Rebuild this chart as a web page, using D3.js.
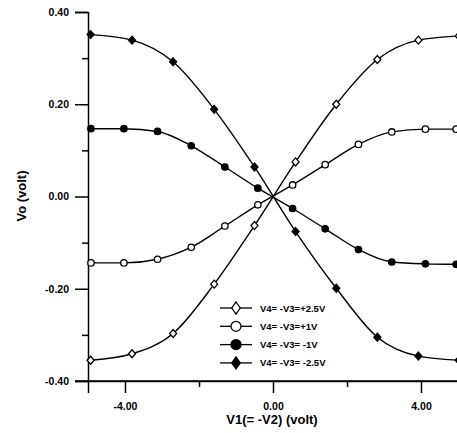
<!DOCTYPE html>
<html>
  <head>
    <meta charset="utf-8">
    <title>Vo vs V1</title>
    <script src="https://cdn.jsdelivr.net/npm/d3@7/dist/d3.min.js"></script>
    <style>
      body { margin: 0; background: #fff; }
      text { font-family: 'Liberation Sans', Arial, sans-serif; font-weight: bold; }
    </style>
  </head>
  <body>
    <svg width="457" height="433" id="mainsvg"></svg>
    <script>
        // data
        const xDiamond = [-4.93, -3.81, -2.70, -1.59, -0.50, 0.61, 1.71, 2.82, 3.93, 5.02];
        const xCircle = [-4.92, -4.03, -3.12, -2.21, -1.30, -0.41, 0.53, 1.41, 2.31, 3.21, 4.12, 4.95];
        const vPlus25 = [-0.355, -0.341, -0.297, -0.190, -0.063, 0.075, 0.200, 0.297, 0.339, 0.348];
        const vPlus1 = [-0.144, -0.144, -0.136, -0.110, -0.064, -0.018, 0.025, 0.069, 0.113, 0.140, 0.146, 0.146];
        const vMinus1 = [0.147, 0.147, 0.141, 0.110, 0.064, 0.018, -0.026, -0.070, -0.115, -0.142, -0.146, -0.147];
        const vMinus25 = [0.351, 0.339, 0.292, 0.189, 0.064, -0.076, -0.199, -0.305, -0.346, -0.355];
        const seriesNames = ['V4= -V3=+2.5V', 'V4= -V3=+1V', 'V4= -V3= -1V', 'V4= -V3= -2.5V'];
        const xMajor = [-4, 0, 4];
        const xMinor = [-2, 2];
        const yMajor = [-0.4, -0.2, 0, 0.2, 0.4];
        const yMinor = [-0.3, -0.1, 0.1, 0.3];

        const series = [
          {name: seriesNames[0], xs: xDiamond, ys: vPlus25, shape: 'diamond', filled: false},
          {name: seriesNames[1], xs: xCircle, ys: vPlus1, shape: 'circle', filled: false},
          {name: seriesNames[2], xs: xCircle, ys: vMinus1, shape: 'circle', filled: true},
          {name: seriesNames[3], xs: xDiamond, ys: vMinus25, shape: 'diamond', filled: true}
        ];

        const svg = d3.select('#mainsvg');
        const margin = {top: 12, left: 88, bottom: 381, right: 458};

        const xScale = d3.scaleLinear().domain([-5, 5]).range([margin.left, margin.right]);
        const yScale = d3.scaleLinear().domain([-0.4, 0.4]).range([margin.bottom, margin.top]);

        // axes (plain hyphen minus like the original)
        const fmt = d => d.toFixed(2);
        svg.append('g').attr('class', 'yaxis').attr('transform', `translate(${margin.left},0)`)
          .call(d3.axisLeft(yScale).tickValues(yMajor).tickSize(13).tickPadding(6).tickFormat(fmt));
        svg.append('g').attr('transform', `translate(${margin.left},0)`)
          .call(d3.axisLeft(yScale).tickValues(yMinor).tickSize(6).tickFormat(''))
          .select('.domain').remove();
        svg.append('g').attr('class', 'xaxis').attr('transform', `translate(0,${margin.bottom})`)
          .call(d3.axisBottom(xScale).tickValues(xMajor).tickSize(12).tickPadding(10).tickFormat(fmt));
        svg.append('g').attr('transform', `translate(0,${margin.bottom})`)
          .call(d3.axisBottom(xScale).tickValues(xMinor).tickSize(6).tickFormat(''))
          .select('.domain').remove();
        // x axis line also runs under the -0.40 tick
        svg.append('line').attr('x1', margin.left - 13).attr('x2', margin.right)
          .attr('y1', margin.bottom).attr('y2', margin.bottom)
          .attr('stroke', 'black').attr('stroke-width', 1.5);

        svg.selectAll('.domain').attr('stroke-width', 1.5);
        svg.selectAll('.tick line').attr('stroke-width', 1.5);
        svg.selectAll('.tick text').attr('font-size', '10.5px').attr('fill', 'black')
          .attr('font-family', "'Liberation Sans', Arial, sans-serif").attr('font-weight', 'bold');

        // axis titles
        svg.append('text').text('V1(= -V2) (volt)').attr('font-size', '13px')
          .attr('text-anchor', 'middle').attr('x', 272).attr('y', 424);
        svg.append('text').text('Vo (volt)').attr('font-size', '13px')
          .attr('text-anchor', 'middle')
          .attr('transform', 'translate(26,196) rotate(-90)');

        // markers
        function drawMarker(g, shape, filled, cx, cy, big) {
          if (shape === 'circle') {
            g.append('circle').attr('cx', cx).attr('cy', cy).attr('r', big ? 5 : 3.2)
              .attr('fill', filled ? 'black' : 'white').attr('stroke', 'black').attr('stroke-width', 1.3);
          } else {
            const hw = big ? 4.2 : 3.5, hh = big ? 6 : 4;
            g.append('path')
              .attr('d', `M${cx},${cy - hh}L${cx + hw},${cy}L${cx},${cy + hh}L${cx - hw},${cy}Z`)
              .attr('fill', filled ? 'black' : 'white').attr('stroke', 'black').attr('stroke-width', 1.3);
          }
        }

        const line = d3.line().x(d => xScale(d[0])).y(d => yScale(d[1])).curve(d3.curveMonotoneX);
        const plot = svg.append('g');
        series.forEach(s => {
          const pts = s.xs.map((x, i) => [x, s.ys[i]]);
          plot.append('path').attr('d', line(pts)).attr('fill', 'none')
            .attr('stroke', 'black').attr('stroke-width', 1.4);
        });
        series.forEach(s => {
          s.xs.forEach((x, i) => drawMarker(plot, s.shape, s.filled, xScale(x), yScale(s.ys[i]), false));
        });

        // legend
        const legend = svg.append('g');
        series.forEach((s, i) => {
          const ly = 308 + i * 18.3;
          legend.append('line').attr('x1', 220).attr('x2', 252).attr('y1', ly).attr('y2', ly)
            .attr('stroke', 'black').attr('stroke-width', 1.3);
          drawMarker(legend, s.shape, s.filled, 236, ly, true);
          legend.append('text').text(s.name).attr('x', 260).attr('y', ly + 3.5)
            .attr('font-size', '9.5px');
        });
    </script>
  </body>
</html>
